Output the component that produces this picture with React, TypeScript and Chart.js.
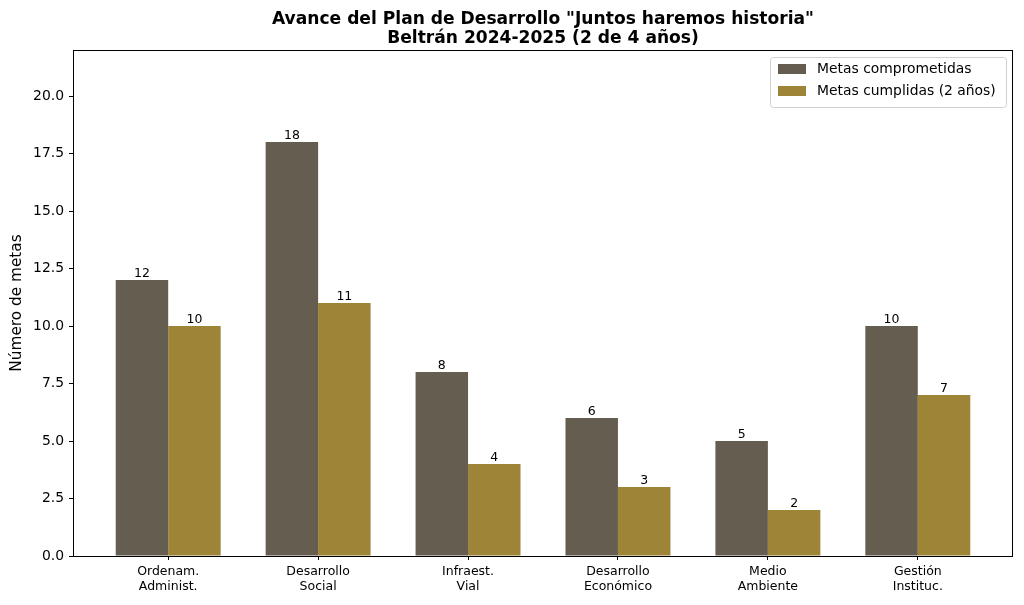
import { useEffect, useRef } from 'react';
import { Chart, registerables } from 'chart.js';

Chart.register(...registerables);

const CATEGORIES = [
  ['Ordenam.', 'Administ.'],
  ['Desarrollo', 'Social'],
  ['Infraest.', 'Vial'],
  ['Desarrollo', 'Económico'],
  ['Medio', 'Ambiente'],
  ['Gestión', 'Instituc.'],
];
const COMPROMETIDAS = [12, 18, 8, 6, 5, 10];
const CUMPLIDAS = [10, 11, 4, 3, 2, 7];
const SERIES_LABELS = ['Metas comprometidas', 'Metas cumplidas (2 años)'];
const SERIES_COLORS = ['#655e50', '#9e8436'];
const TITLE_LINES = ['Avance del Plan de Desarrollo "Juntos haremos historia"', 'Beltrán 2024-2025 (2 de 4 años)'];

const FONT = "'DejaVu Sans', sans-serif";

// frame, value labels, title and a matplotlib-like legend box
const decorations = {
  id: 'decorations',
  afterDatasetsDraw(chart: any) {
    const { ctx, chartArea: a } = chart;
    ctx.save();

    ctx.font = `12.5px ${FONT}`;
    ctx.fillStyle = '#000';
    ctx.textAlign = 'center';
    ctx.textBaseline = 'alphabetic';
    chart.data.datasets.forEach((ds: any, i: number) => {
      chart.getDatasetMeta(i).data.forEach((bar: any, j: number) => {
        ctx.fillText(String(ds.data[j].y), bar.x, bar.y - 3);
      });
    });

    ctx.strokeStyle = '#000';
    ctx.lineWidth = 1;
    ctx.strokeRect(a.left + 0.5, a.top + 0.5, a.right - a.left - 1, a.bottom - a.top);

    ctx.font = `bold 17.1px ${FONT}`;
    const cx = (a.left + a.right) / 2;
    ctx.fillText(TITLE_LINES[0], cx, 24);
    ctx.fillText(TITLE_LINES[1], cx, 43);

    // legend
    const lx = 770, ly = 57, lw = 236, lh = 50;
    ctx.beginPath();
    ctx.roundRect(lx + 0.5, ly + 0.5, lw, lh, 3);
    ctx.fillStyle = 'rgba(255,255,255,0.8)';
    ctx.fill();
    ctx.strokeStyle = '#d0d0d0';
    ctx.stroke();
    ctx.font = `13.9px ${FONT}`;
    ctx.textAlign = 'left';
    ctx.textBaseline = 'middle';
    SERIES_LABELS.forEach((label, i) => {
      const y = 69 + i * 22;
      ctx.fillStyle = SERIES_COLORS[i];
      ctx.fillRect(778, y - 5, 28, 10);
      ctx.fillStyle = '#000';
      ctx.fillText(label, 817, y);
    });

    ctx.restore();
  },
};

export default function App() {
  const canvasRef = useRef<HTMLCanvasElement>(null);

  useEffect(() => {
    if (!canvasRef.current) return;
    const chart = new Chart(canvasRef.current, {
      type: 'bar',
      data: {
        datasets: [COMPROMETIDAS, CUMPLIDAS].map((vals, i) => ({
          label: SERIES_LABELS[i],
          data: vals.map((v, j) => ({ x: j, y: v })),
          backgroundColor: SERIES_COLORS[i],
          categoryPercentage: 0.7,
          barPercentage: 1,
        })),
      },
      options: {
        animation: false,
        responsive: false,
        layout: { padding: { top: 50, right: 11, left: 0, bottom: 0 } },
        plugins: {
          legend: { display: false },
          title: { display: false },
          tooltip: { enabled: false },
        },
        scales: {
          x: {
            type: 'linear',
            min: -0.635,
            max: 5.635,
            offset: false,
            border: { display: false },
            grid: { offset: false, drawOnChartArea: false, tickLength: 4, color: '#000' },
            afterBuildTicks: (axis: any) => {
              axis.ticks = CATEGORIES.map((_, i) => ({ value: i }));
            },
            afterFit: (axis: any) => {
              axis.height = 49;
            },
            ticks: {
              padding: 5,
              color: '#000',
              font: { family: FONT, size: 12.5, lineHeight: 1.15 },
              maxRotation: 0,
              autoSkip: false,
              callback: (v: any) => CATEGORIES[Number(v)] ?? '',
            },
          },
          y: {
            min: 0,
            max: 22,
            border: { display: false },
            grid: { drawOnChartArea: false, tickLength: 4, color: '#000' },
            afterFit: (axis: any) => {
              axis.width = 73;
            },
            title: {
              display: true,
              text: 'Número de metas',
              color: '#000',
              font: { family: FONT, size: 15.3 },
              padding: { top: 8, bottom: 0 },
            },
            ticks: {
              stepSize: 2.5,
              includeBounds: false,
              padding: 5,
              color: '#000',
              font: { family: FONT, size: 13.9 },
              callback: (v: any) => Number(v).toFixed(1),
            },
          },
        },
      },
      plugins: [decorations],
    });
    return () => chart.destroy();
  }, []);

  return (
    <div style={{ position: 'fixed', left: 0, top: 0, width: 1024, height: 605, background: '#fff' }}>
      <canvas ref={canvasRef} width={1024} height={605} style={{ width: 1024, height: 605 }} />
    </div>
  );
}
